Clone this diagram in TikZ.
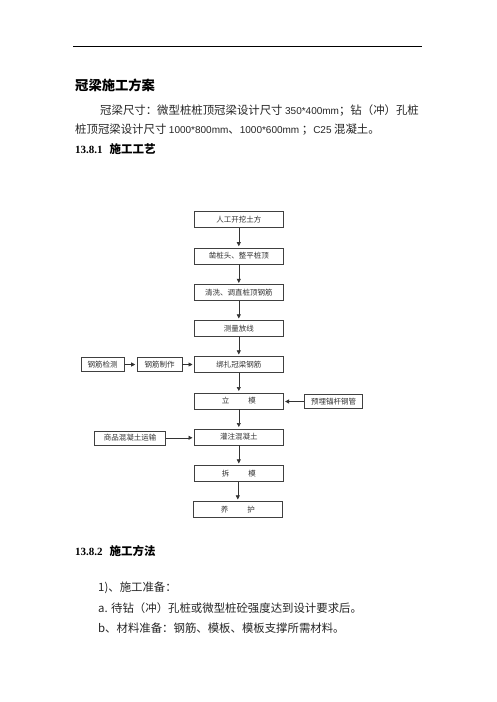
\documentclass[tikz,border=0pt]{standalone}
\usepackage{fontspec}
\setmainfont{Liberation Serif}
\newfontfamily\cjk{Noto Sans CJK SC}
\newfontfamily\arialf{Liberation Sans}
\usetikzlibrary{arrows.meta}
\tikzset{
  flowbox/.style={draw=black!75, line width=0.6pt, minimum width=89pt, minimum height=16pt,
    inner sep=0pt, font=\cjk\fontsize{7.5}{8}\selectfont, text=black!80},
  sidebox/.style={draw=black!75, line width=0.6pt, minimum height=14pt,
    inner sep=0pt, font=\cjk\fontsize{7.5}{8}\selectfont, text=black!80},
  flowarrow/.style={draw=black!80, line width=0.6pt, -{Triangle[length=4pt,width=4pt]}, shorten >=1.5pt},
  txt/.style={anchor=west, inner sep=0pt, text=black!85},
  bodyfont/.style={font=\cjk\fontsize{11.4}{13}\selectfont}
}
\newcommand{\latn}[1]{{\arialf\fontsize{10}{11}\selectfont #1}}
\begin{document}
\begin{tikzpicture}[x=1pt,y=-1pt]
\path[use as bounding box, fill=white] (0,0) rectangle (496,702);
% header rule
\coordinate (hl) at (73,46);
\coordinate (hr) at (422,46);
\draw[line width=1pt] (hl) -- (hr);
% title
\node[txt, font=\cjk\bfseries\fontsize{13.3}{15}\selectfont, text=black] (title) at (75,85) {冠梁施工方案};
% paragraph
\node[txt, bodyfont] (p1) at (100,110.5) {冠梁尺寸：微型桩桩顶冠梁设计尺寸 \latn{350*400mm}；钻（冲）孔桩};
\node[txt, bodyfont] (p2) at (75,129.7) {桩顶冠梁设计尺寸 \latn{1000*800mm}、\latn{1000*600mm} ；\latn{C25} 混凝土。};
% heading 13.8.1
\node[txt, text=black] (h1) at (75,149.5) {{\bfseries\fontsize{11}{12}\selectfont 13.8.1}\hspace{7pt}{\cjk\bfseries\fontsize{11.5}{13}\selectfont 施工工艺}};
% flowchart
\node[flowbox] (b1) at (238.8,219.3) {人工开挖土方};
\node[flowbox] (b2) at (238.8,256.0) {凿桩头、整平桩顶};
\node[flowbox] (b3) at (238.8,292.7) {清洗、调直桩顶钢筋};
\node[flowbox] (b4) at (238.8,328.2) {测量放线};
\node[flowbox] (b5) at (238.8,364.2) {绑扎冠梁钢筋};
\node[flowbox] (b6) at (238.8,400.8) {立\hspace{19pt}模};
\node[flowbox] (b7) at (238.8,436.8) {灌注混凝土};
\node[flowbox] (b8) at (238.8,473.2) {拆\hspace{19pt}模};
\node[flowbox] (b9) at (237.8,509.2) {养\hspace{19pt}护};
\node[sidebox, minimum width=43.5pt] (l1) at (102.7,364.5) {钢筋检测};
\node[sidebox, minimum width=45pt] (l2) at (159.5,364.5) {钢筋制作};
\node[sidebox, minimum width=57.5pt] (r1) at (333.5,401.5) {预埋锚杆钢管};
\node[sidebox, minimum width=71pt] (c1) at (130,437.8) {商品混凝土运输};
\draw[flowarrow] (b1) -- (b2);
\draw[flowarrow] (b2) -- (b3);
\draw[flowarrow] (b3) -- (b4);
\draw[flowarrow] (b4) -- (b5);
\draw[flowarrow] (b5) -- (b6);
\draw[flowarrow] (b6) -- (b7);
\draw[flowarrow] (b7) -- (b8);
\draw[flowarrow] (b8.south -| b9) -- (b9);
\draw[flowarrow] (l1) -- (l2);
\draw[flowarrow] (l2) -- (b5.west |- l2);
\draw[flowarrow] (r1) -- (b6.east |- r1);
\draw[flowarrow] (c1) -- (b7.west |- c1);
% heading 13.8.2
\node[txt, text=black] (h2) at (75,551) {{\bfseries\fontsize{11}{12}\selectfont 13.8.2}\hspace{7pt}{\cjk\bfseries\fontsize{11.5}{13}\selectfont 施工方法}};
\node[txt, bodyfont] (s1) at (98,588) {1)、施工准备：};
\node[txt, bodyfont] (s2) at (98,608.5) {a. 待钻（冲）孔桩或微型桩砼强度达到设计要求后。};
\node[txt, bodyfont] (s3) at (98,628.5) {b、材料准备：钢筋、模板、模板支撑所需材料。};
\end{tikzpicture}
\end{document}
